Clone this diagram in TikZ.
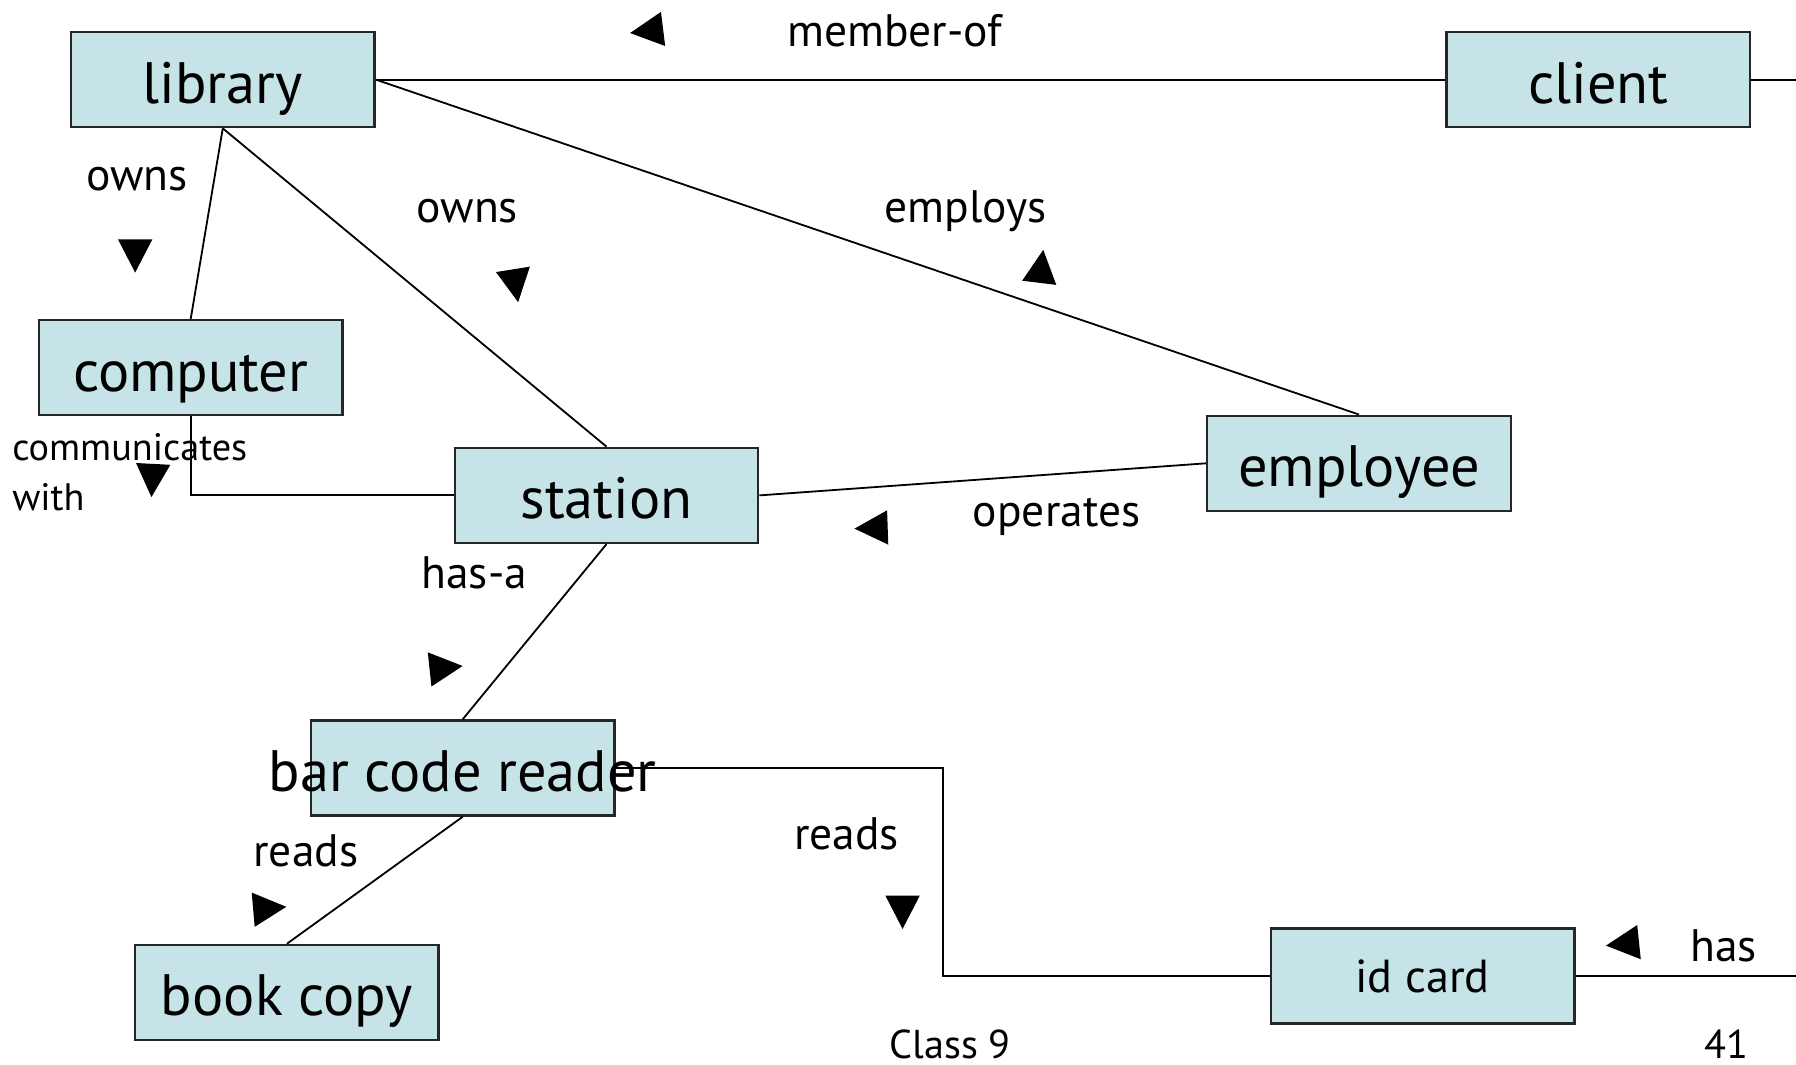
\documentclass[tikz,border=0pt]{standalone}
\usepackage{fontspec}
\setmainfont{PT Sans}
\definecolor{boxfill}{RGB}{198,228,232}

\begin{document}
\begin{tikzpicture}[x=0.1mm,y=-0.1mm,
  boxtext/.style={text height=5.2mm,text depth=1.1mm,font=\fontsize{14.5}{17}\selectfont},
  entity/.style={draw=black!85,line width=0.6pt,fill=boxfill,inner sep=0pt,
    minimum width=26.5mm,minimum height=8.3mm,boxtext},
  lbl/.style={inner sep=0pt,font=\fontsize{11.3}{13}\selectfont},
  link/.style={line width=0.45pt}]

\useasboundingbox[fill=white] (0,0) rectangle (1568,929);

% classes
\foreach \name/\x/\y/\txt in {library/194.5/69.5/library, client/1395.5/69.5/client,
    computer/166.5/321/computer, station/529.5/432.5/station,
    employee/1186.5/404.5/employee, book/250.5/866.5/book copy}
  \node[entity] (\name) at (\x,\y) {\txt};
\node[entity,label={[boxtext,inner sep=0pt]center:bar code reader}] (reader) at (404,670.5) {};
\node[entity,text height=,text depth=,font=\fontsize{11.5}{14}\selectfont] (idcard) at (1242,852) {id card};

% loose ends at the right margin
\coordinate (clientend) at (1568,69.5);
\coordinate (idend) at (1568,852);

% associations
\draw[link] (library) -- (client);
\draw[link] (client) -- (clientend);
\draw[link] (library.south) -- (computer.north);
\draw[link] (library.south) -- (station.north);
\draw[link] (library.east) -- (employee.north);
\draw[link] (computer.south) |- (station.west);
\draw[link] (station.east) -- (employee.west);
\draw[link] (station.south) -- (reader.north);
\draw[link] (reader.east) -- ++(286,0) |- (idcard.west);
\draw[link] (reader.south) -- (book.north);
\draw[link] (idcard) -- (idend);

% association names
\node[lbl] (memberof) at (781,27) {member-of};
\node[lbl] (owns1) at (119.5,156) {owns};
\node[lbl] (owns2) at (408,184) {owns};
\node[lbl] (employs) at (843,184) {employs};
\node[lbl,anchor=west,align=left,font=\fontsize{9.5}{12.5}\selectfont] (comm) at (10,412) {communicates\\with};
\node[lbl] (operates) at (922.5,451) {operates};
\node[lbl] (hasa) at (414,500) {has-a};
\node[lbl] (reads1) at (267,743) {reads};
\node[lbl] (reads2) at (739,728) {reads};
\node[lbl] (has) at (1505,826) {has};

% reading directions
\foreach \x/\y/\r in {565/27/187, 118/223/-90, 450/249/-81, 909/233/83, 133/419/-93,
    761/461/182, 389/583/6, 235/793/5, 788/796/-90, 1417/824/186}
  \fill[shift={(\x,\y)},rotate=\r] (15,0) -- (-14,15) -- (-14,-15) -- cycle;

% footer
\node[lbl,font=\fontsize{10}{12}\selectfont] (footer) at (829.5,912) {Class 9};
\node[lbl,font=\fontsize{10}{12}\selectfont] (pageno) at (1507.5,912) {41};
\end{tikzpicture}
\end{document}
